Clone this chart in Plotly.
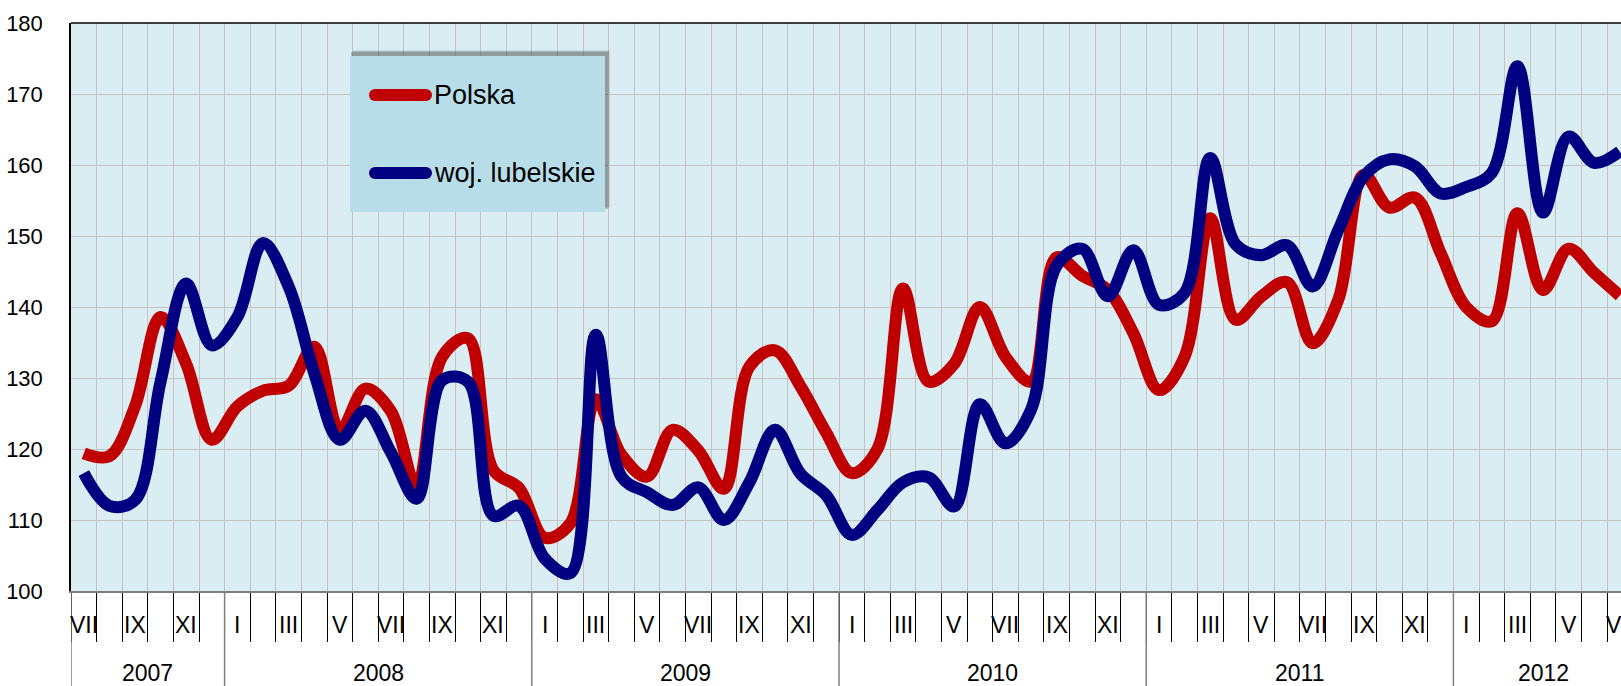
import plotly.graph_objects as go

# ---- data (VII 2007 .. VII 2012, monthly) ----
start_year = 2007
start_month = 7
polska = [119.4, 119.0, 126.0, 138.6, 132.0, 121.3,
          126.0, 128.2, 128.9, 134.4, 122.6, 128.5, 125.3, 114.7, 133.0, 135.6, 117.0, 114.5,
          107.5, 109.5, 127.0, 119.2, 116.1, 122.7, 119.8, 114.4, 131.6, 133.9, 128.8, 122.3,
          116.6, 120.0, 142.6, 129.5, 132.0, 140.0, 133.0, 129.5, 147.0, 144.4, 142.4, 136.3,
          128.3, 133.0, 152.5, 138.2, 141.5, 143.5, 134.9, 141.0, 158.6, 154.0, 155.4, 147.6,
          140.0, 138.0, 153.2, 142.4, 148.2, 144.8, 141.6]
lubelskie = [116.6, 112.0, 112.8, 129.5, 143.3, 134.6,
             138.6, 149.0, 142.9, 130.7, 121.3, 125.4, 119.5, 113.0, 129.7, 129.5, 110.6, 112.0,
             104.6, 102.5, 136.1, 116.1, 113.9, 112.1, 114.6, 110.0, 115.3, 122.7, 116.5, 113.5,
             107.9, 111.4, 115.3, 116.0, 111.9, 126.3, 120.8, 125.5, 145.8, 148.2, 141.5, 148.0,
             140.3, 142.0, 161.0, 148.8, 147.3, 148.7, 142.9, 150.8, 158.4, 160.8, 159.8, 156.0,
             156.9, 158.9, 173.9, 153.3, 164.0, 160.3, 161.9]
roman = ["I", "II", "III", "IV", "V", "VI", "VII", "VIII", "IX", "X", "XI", "XII"]
years = [2007, 2008, 2009, 2010, 2011, 2012]
series_names = ["Polska", "woj. lubelskie"]
series_colors = ["#c00000", "#000080"]

n = len(polska)
xs = [i + 0.5 for i in range(n)]

FONT = "Liberation Sans, Arial, sans-serif"

# figure geometry
W, H = 1621, 686
L, T, B = 71, 23, 95
plot_w = W - L
plot_h = H - T - B
month_px = 25.6
x_max = plot_w / month_px


def px(X):
    return (X - L) / plot_w


def py(Y):
    return (T + plot_h - Y) / plot_h


fig = go.Figure()
for name, vals, col in [(series_names[0], polska, series_colors[0]),
                        (series_names[1], lubelskie, series_colors[1])]:
    fig.add_trace(go.Scatter(x=xs, y=vals, mode="lines", name=name,
                             line=dict(color=col, width=12, shape="spline", smoothing=1.0),
                             showlegend=False, hoverinfo="skip"))

shapes = []
annotations = []

# year boundary lines and labels
bounds = [0]
m = start_month
for i in range(n + 1):
    if m == 1 and i > 0:
        bounds.append(i)
    m = m % 12 + 1
for b in bounds:
    shapes.append(dict(type="line", xref="x", yref="paper", x0=b, x1=b, y0=0, y1=-B / plot_h,
                       line=dict(color="#7f7f7f", width=1.5), layer="above"))
ends = bounds[1:] + [n]
for y_, s, e in zip(years, bounds, ends):
    annotations.append(dict(x=(s + e) / 2, y=0, xref="x", yref="paper", yshift=-82,
                            text=str(y_), showarrow=False, xanchor="center", yanchor="middle",
                            font=dict(family=FONT, size=23, color="black")))

# month labels (odd months)
m = start_month
for i in range(n):
    if m % 2 == 1:
        annotations.append(dict(x=i + 0.5, y=0, xref="x", yref="paper", yshift=-34,
                                text=roman[m - 1], showarrow=False, xanchor="center",
                                yanchor="middle",
                                font=dict(family=FONT, size=23, color="black")))
    m = m % 12 + 1

# top border
shapes.append(dict(type="line", xref="paper", yref="paper", x0=0, x1=1, y0=1, y1=1,
                   line=dict(color="black", width=1.5), layer="above"))

# legend box with shadow
for k, op in [(5, 0.12), (4, 0.18), (3, 0.25)]:
    shapes.append(dict(type="rect", xref="paper", yref="paper",
                       x0=px(350 + k - 2), x1=px(605 + k), y0=py(212 - k), y1=py(56 - k - 1),
                       line=dict(width=0), fillcolor=f"rgba(60,60,60,{op})", layer="above"))
shapes.append(dict(type="rect", xref="paper", yref="paper",
                   x0=px(350), x1=px(605), y0=py(212), y1=py(56),
                   line=dict(width=0), fillcolor="#b7dde8", layer="above"))
for Y, name, col in [(95, series_names[0], series_colors[0]), (173, series_names[1], series_colors[1])]:
    shapes.append(dict(type="line", xref="paper", yref="paper", x0=px(375), x1=px(426),
                       y0=py(Y), y1=py(Y), line=dict(color=col, width=12), layer="above"))
    for cx in (375, 426):
        shapes.append(dict(type="circle", xref="paper", yref="paper",
                           x0=px(cx - 6), x1=px(cx + 6), y0=py(Y + 6), y1=py(Y - 6),
                           line=dict(width=0), fillcolor=col, layer="above"))
    annotations.append(dict(x=px(432), y=py(Y), xref="paper", yref="paper", text=name,
                            showarrow=False, xanchor="left", yanchor="middle",
                            font=dict(family=FONT, size=27, color="black")))

fig.update_layout(
    width=W, height=H, autosize=False,
    margin=dict(l=L, r=0, t=T, b=B, pad=0),
    paper_bgcolor="white", plot_bgcolor="#daedf3",
    shapes=shapes, annotations=annotations, showlegend=False,
    xaxis=dict(range=[0, x_max], tickvals=list(range(0, n + 1)), ticks="outside", ticklen=49,
               tickwidth=1, tickcolor="black", showticklabels=False, showgrid=True,
               gridcolor="#c3c3c3", gridwidth=1.3, showline=True, linecolor="#7f7f7f",
               linewidth=1.5, zeroline=False, fixedrange=True),
    yaxis=dict(range=[100, 180], tickvals=[100, 110, 120, 130, 140, 150, 160, 170, 180],
               ticks="outside", ticklen=22, tickcolor="rgba(0,0,0,0)",
               tickfont=dict(family=FONT, size=22, color="black"), showgrid=True,
               gridcolor="#c3c3c3", gridwidth=1.3, showline=True, linecolor="black",
               linewidth=1.5, zeroline=False, fixedrange=True),
)

fig.write_html(
    "out.html",
    config={"displayModeBar": False},
    post_script="document.body.style.margin='0px';document.body.style.overflow='hidden';",
)
